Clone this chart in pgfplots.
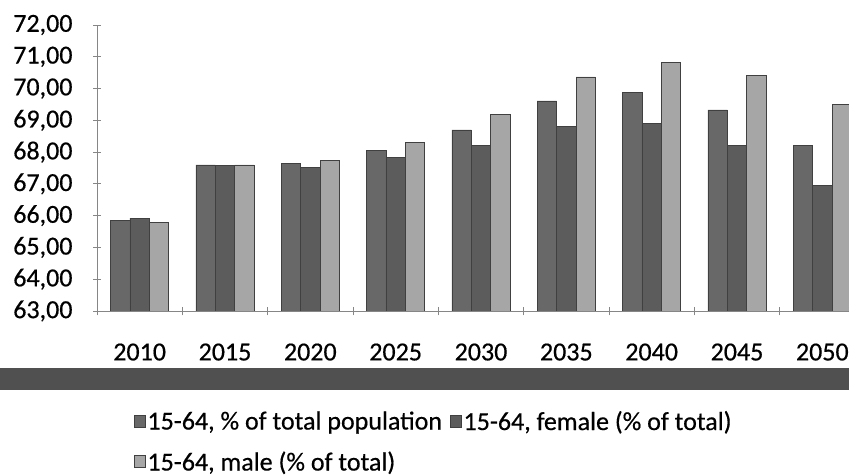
\documentclass[border=0pt]{standalone}
\usepackage{fontspec}
\setmainfont{Carlito}[FakeBold=0.5]
\usepackage{pgfplots}
\pgfplotsset{compat=1.18}

\definecolor{axisgray}{HTML}{868686}
\definecolor{banddark}{HTML}{505050}
\definecolor{barA}{HTML}{686868}
\definecolor{barB}{HTML}{5C5C5C}
\definecolor{barC}{HTML}{A6A6A6}
\definecolor{barline}{HTML}{404040}

\begin{document}
\begin{tikzpicture}
\useasboundingbox (0,0) rectangle (849bp,476bp);
% dark band under the year labels
\fill[banddark] (0,86bp) rectangle (849bp,108bp);
\begin{axis}[
    at={(97bp,165bp)}, anchor=south west,
    scale only axis,
    width=768bp, height=286bp,
    ybar=0pt, bar width=19.4bp,
    xmin=-0.5, xmax=8.5,
    ymin=63, ymax=72,
    ytick={63,64,...,72},
    xtick={0,...,8},
    xticklabels={2010,2015,2020,2025,2030,2035,2040,2045,2050},
    minor xtick={-0.5,0.5,...,8.5},
    major x tick style={draw=none},
    minor x tick style={draw=axisgray, line width=0.8bp},
    minor tick length=9bp,
    y tick style={draw=axisgray, line width=0.8bp},
    major tick length=8bp,
    tick align=outside,
    axis lines=left,
    axis line style={draw=axisgray, line width=0.8bp, -},
    tick label style={font=\fontsize{26bp}{30bp}\selectfont, text=black},
    xticklabel style={yshift=-25bp},
    yticklabel style={
        /pgf/number format/.cd, fixed, fixed zerofill, precision=2, use comma,
        assume math mode=true,
        /tikz/.cd, xshift=-17bp},
    legend columns=2,
    legend cell align=left,
    legend style={
        at={(0.044,-0.335)}, anchor=north west,
        draw=none, fill=none,
        font=\fontsize{26bp}{30bp}\selectfont,
        row sep=16bp,
        /tikz/every even column/.append style={column sep=6bp},
    },
    legend image code/.code={
        \draw[#1, draw=barline, line width=0.5bp] (0bp,-6bp) rectangle (11bp,6bp);
    },
]
\addplot[draw=barline, line width=0.6bp, fill=barA]
    coordinates {(0,65.86) (1,67.60) (2,67.64) (3,68.05) (4,68.70) (5,69.61) (6,69.87) (7,69.33) (8,68.21)};
\addplot[draw=barline, line width=0.6bp, fill=barB]
    coordinates {(0,65.92) (1,67.57) (2,67.51) (3,67.83) (4,68.21) (5,68.82) (6,68.91) (7,68.21) (8,66.94)};
\addplot[draw=barline, line width=0.6bp, fill=barC]
    coordinates {(0,65.79) (1,67.60) (2,67.73) (3,68.30) (4,69.19) (5,70.37) (6,70.83) (7,70.41) (8,69.51)};
\legend{{15-64, \% of total population},{15-64, female (\% of total)},{15-64, male (\% of total)}}
\end{axis}
\end{tikzpicture}
\end{document}
